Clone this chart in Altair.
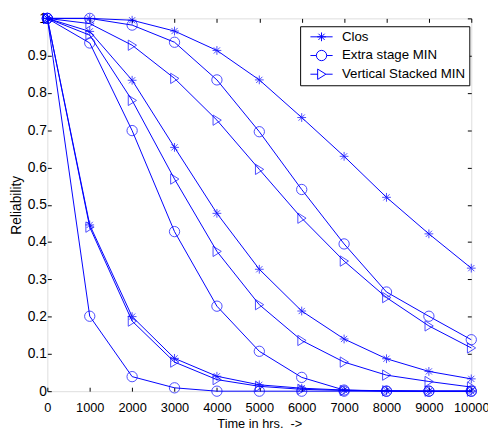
import altair as alt
import pandas as pd

times = [0, 1000, 2000, 3000, 4000, 5000, 6000, 7000, 8000, 9000, 10000]

clos_1 = [1.0, 1.0, 0.995, 0.966, 0.914, 0.835, 0.734, 0.630, 0.520, 0.422, 0.330]
ext_1 = [1.0, 1.0, 0.982, 0.936, 0.835, 0.696, 0.541, 0.395, 0.266, 0.201, 0.138]
vs_1 = [1.0, 0.986, 0.928, 0.839, 0.727, 0.595, 0.464, 0.349, 0.251, 0.175, 0.116]

clos_2 = [1.0, 0.965, 0.834, 0.654, 0.477, 0.327, 0.215, 0.140, 0.087, 0.053, 0.033]
ext_2 = [1.0, 0.934, 0.699, 0.428, 0.228, 0.107, 0.037, 0.003, 0.0, 0.0, 0.0]
vs_2 = [1.0, 0.955, 0.780, 0.569, 0.375, 0.232, 0.136, 0.078, 0.043, 0.026, 0.011]

clos_3 = [1.0, 0.446, 0.200, 0.088, 0.040, 0.017, 0.008, 0.003, 0.001, 0.0, 0.0]
ext_3 = [1.0, 0.201, 0.039, 0.009, 0.0, 0.0, 0.0, 0.0, 0.0, 0.0, 0.0]
vs_3 = [1.0, 0.440, 0.188, 0.078, 0.031, 0.013, 0.005, 0.002, 0.001, 0.0, 0.0]

types = ["Clos", "Extra stage MIN", "Vertical Stacked MIN"]
series = [
    ("Clos", "1", clos_1), ("Extra stage MIN", "1", ext_1), ("Vertical Stacked MIN", "1", vs_1),
    ("Clos", "2", clos_2), ("Extra stage MIN", "2", ext_2), ("Vertical Stacked MIN", "2", vs_2),
    ("Clos", "3", clos_3), ("Extra stage MIN", "3", ext_3), ("Vertical Stacked MIN", "3", vs_3),
]
y_ticks = [0, 0.1, 0.2, 0.3, 0.4, 0.5, 0.6, 0.7, 0.8, 0.9, 1]

rows = []
for typ, grp, vals in series:
    for t, v in zip(times, vals):
        rows.append({"time": t, "rel": v, "type": typ, "series": typ + "-" + grp})
df = pd.DataFrame(rows)

star = "M-0.85,0L0.85,0M0,-0.85L0,0.85M-0.6,-0.6L0.6,0.6M-0.6,0.6L0.6,-0.6"
circ = "M1,0A1,1 0 1 1 -1,0A1,1 0 1 1 1,0Z"
tri = "M-0.75,-1L0.85,0L-0.75,1Z"
shapes = [star, circ, tri]
leg_shapes = [
    star + "M-2.15,0L2.15,0",
    circ + "M-2.15,0L-1,0M1,0L2.15,0",
    tri + "M-2.15,0L-0.75,0M0.85,0L2.15,0",
]

BLUE = "#0000ff"
xs = alt.Scale(domain=[0, 10000], nice=False)
ys = alt.Scale(domain=[0, 1], nice=False)

common_ax = dict(domain=False, grid=False, tickSize=4, offset=-4, tickColor="black",
                 labelColor="black", titleColor="black", titleFontWeight="normal",
                 labelOverlap=False, labelBound=False, labelFlush=False)

lines = alt.Chart(df).mark_line(color=BLUE, strokeWidth=1).encode(
    x=alt.X("time:Q", scale=xs, axis=alt.Axis(orient="bottom", values=times, format="d",
                                              labelPadding=11, labelFontSize=13,
                                              title="Time in hrs.\u00a0 ->", titleFontSize=13,
                                              titlePadding=3, **common_ax)),
    y=alt.Y("rel:Q", scale=ys, axis=alt.Axis(orient="left", values=y_ticks, format="~g",
                                             labelPadding=1, labelFontSize=14,
                                             title="Reliability", titleFontSize=14,
                                             titlePadding=4, **common_ax)),
    detail="series:N",
)

points = alt.Chart(df).mark_point(color=BLUE, filled=False, size=110, strokeWidth=1).encode(
    x=alt.X("time:Q", scale=xs, axis=alt.Axis(orient="top", values=times, labels=False,
                                              title=None, **common_ax)),
    y=alt.Y("rel:Q", scale=ys, axis=alt.Axis(orient="right", values=y_ticks, labels=False,
                                             title=None, **common_ax)),
    shape=alt.Shape("type:N", scale=alt.Scale(domain=types, range=shapes), legend=None),
    detail="series:N",
)

legend_layer = alt.Chart(df).mark_point(color=BLUE, filled=False, size=110, strokeWidth=1,
                                        opacity=0).encode(
    x=alt.X("time:Q", scale=xs, axis=None),
    y=alt.Y("rel:Q", scale=ys, axis=None),
    shape=alt.Shape("type:N", scale=alt.Scale(domain=types, range=leg_shapes),
                    legend=alt.Legend(title=None, orient="none", legendX=257, legendY=8,
                                      strokeColor="black", fillColor="white", padding=4,
                                      symbolOffset=11, labelOffset=14, rowPadding=4,
                                      symbolSize=110, symbolStrokeColor=BLUE,
                                      symbolFillColor="transparent", symbolStrokeWidth=1,
                                      symbolOpacity=1, labelFontSize=13.5, labelColor="black",
                                      cornerRadius=0)),
)

chart = alt.layer(lines, points, legend_layer).resolve_scale(
    shape="independent"
).resolve_axis(
    x="independent", y="independent"
).properties(
    width=431, height=379,
    autosize=alt.AutoSizeParams(type="none"),
    padding={"left": 40, "top": 7, "right": 17, "bottom": 41},
    background="white",
).configure_view(
    stroke="black", strokeWidth=1
).configure(
    font="Liberation Sans"
)

chart.save("out.html", embed_options={"renderer": "svg", "actions": False})
